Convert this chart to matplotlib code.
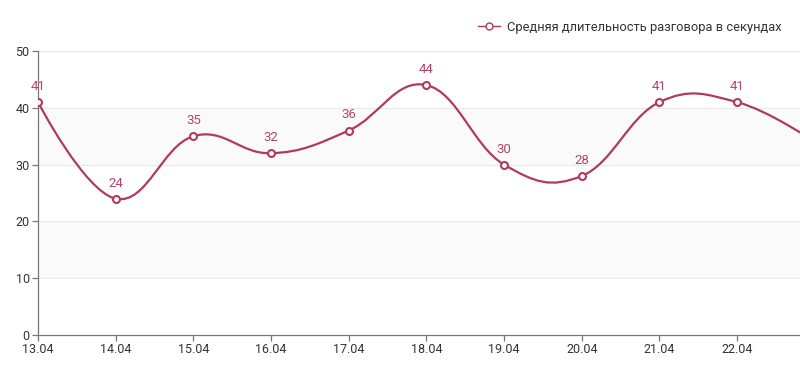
import numpy as np
import matplotlib
matplotlib.use('Agg')
import matplotlib.pyplot as plt
from matplotlib.path import Path
from matplotlib.patches import PathPatch
from matplotlib.lines import Line2D

plt.rcParams['font.family'] = ['Roboto', 'DejaVu Sans']

dates = ['13.04', '14.04', '15.04', '16.04', '17.04', '18.04', '19.04', '20.04', '21.04', '22.04', '23.04']
values = [41, 24, 35, 32, 36, 44, 30, 28, 41, 41, 34]
series_name = 'Средняя длительность разговора в секундах'

LINE = '#b03a5e'
LABEL = '#b5456a'


def spline_path(xs, ys, smoothing=1.5):
    # spline through the points, cubic bezier, control points from neighbours (no clamping)
    denom = smoothing + 1
    n = len(xs)
    verts = [(xs[0], ys[0])]
    codes = [Path.MOVETO]
    right = [None] * n
    for i in range(1, n):
        px, py = xs[i], ys[i]
        lx, ly = xs[i - 1], ys[i - 1]
        lcx, lcy = px, py
        if i < n - 1:
            nx, ny = xs[i + 1], ys[i + 1]
            lcx = (smoothing * px + lx) / denom
            lcy = (smoothing * py + ly) / denom
            rcx = (smoothing * px + nx) / denom
            rcy = (smoothing * py + ny) / denom
            corr = 0
            if rcx != lcx:
                corr = (rcy - lcy) * (rcx - px) / (rcx - lcx) + py - rcy
            lcy += corr
            rcy += corr
            right[i] = (rcx, rcy)
        c1 = right[i - 1] if right[i - 1] is not None else (lx, ly)
        verts += [c1, (lcx, lcy), (px, py)]
        codes += [Path.CURVE4] * 3
    return Path(verts, codes)


fig = plt.figure(figsize=(8, 3.68), dpi=100)
ax = fig.add_axes([38 / 800, 33 / 368, 1 - 38 / 800, 284 / 368])

x = np.arange(len(dates))
ax.set_xlim(0, 9.81)
ax.set_ylim(0, 50)

# alternating bands
for lo in (10, 30):
    ax.axhspan(lo, lo + 10, color='#fafafa', zorder=0, lw=0)
for yv in (10, 20, 30, 40, 50):
    ax.axhline(yv, color='#e8e8e8', lw=0.8, zorder=1)

ax.add_patch(PathPatch(spline_path(x, values), fill=False, edgecolor=LINE, lw=1.6, zorder=3,
                       capstyle='round', joinstyle='round'))
ax.plot(x, values, 'o', ms=5, mfc='white', mec=LINE, mew=1.5, zorder=4, clip_on=True)

for xi, v in zip(x, values):
    if xi <= 9.81:
        ax.annotate(str(v), (xi, v), xytext=(0, 6.5), textcoords='offset points',
                    ha='center', va='bottom', color=LABEL, fontsize=9.5)

ax.set_xticks(x[:10])
ax.set_xticklabels(dates[:10])
ax.set_yticks([0, 10, 20, 30, 40, 50])
for s in ('top', 'right'):
    ax.spines[s].set_visible(False)
for s in ('left', 'bottom'):
    ax.spines[s].set_color('#777777')
    ax.spines[s].set_linewidth(0.9)
ax.tick_params(axis='both', colors='#777777', length=4, width=0.9, labelsize=9, labelcolor='#333333', pad=2)

handle = Line2D([], [], color=LINE, lw=1, marker='o', ms=5, mfc='white', mec=LINE, mew=1)
fig.legend([handle], [series_name], loc='center right', bbox_to_anchor=(0.985, 1 - 27 / 368), frameon=False,
           fontsize=9.3, labelcolor='#333333', handlelength=1.7, handletextpad=0.5, borderpad=0)

fig.savefig('out.png', dpi=100)
